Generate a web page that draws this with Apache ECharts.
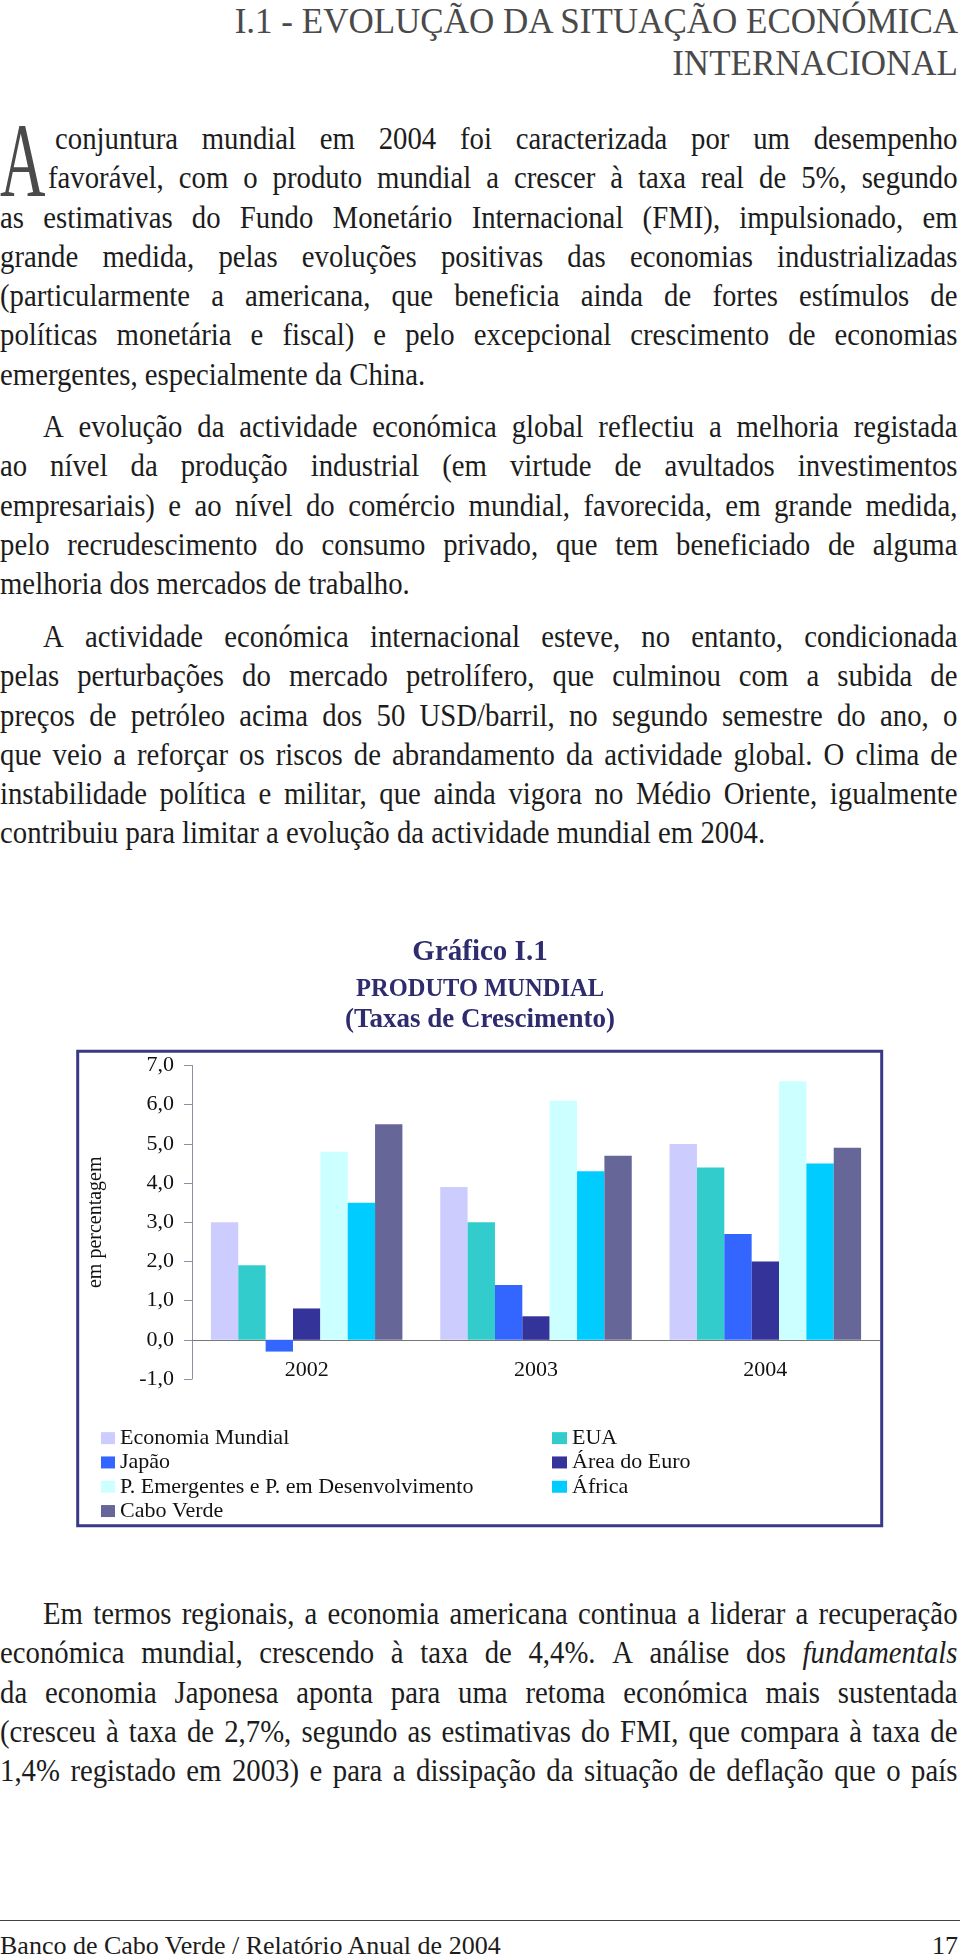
<!DOCTYPE html>
<html>
<head>
<meta charset="utf-8">
<script src="https://cdn.jsdelivr.net/npm/echarts@6.0.0/dist/echarts.min.js"></script>
<style>
  body {
    margin: 0;
    width: 960px;
    height: 1960px;
    position: relative;
    background: #fff;
    font-family: "Liberation Serif", serif;
    color: #1c1c1c;
    overflow: hidden;
  }
  .head {
    position: absolute;
    right: 2px;
    top: 1px;
    text-align: right;
    font-size: 35px;
    line-height: 42px;
    color: #4a4a4a;
  }
  .para {
    position: absolute;
    left: 0;
    width: 1082px;
    font-size: 32.5px;
    line-height: 39.3px;
    transform: scaleX(0.885);
    transform-origin: left top;
  }
  .line {
    display: flex;
    justify-content: space-between;
    white-space: nowrap;
    height: 39.3px;
  }
  .last {
    white-space: pre;
    height: 39.3px;
  }
  .dropcap {
    position: absolute;
    left: 0;
    top: 108px;
    font-size: 105px;
    line-height: 105px;
    color: #4a4a4a;
    transform: scaleX(0.6);
    transform-origin: left top;
  }
  #chart {
    position: absolute;
    left: 0;
    top: 900px;
    width: 960px;
    height: 660px;
  }
  .rule {
    position: absolute;
    left: 0;
    top: 1920px;
    width: 960px;
    border-top: 1.5px solid #444;
  }
  .foot {
    position: absolute;
    left: 0;
    top: 1931px;
    width: 958px;
    font-size: 26px;
    line-height: 30px;
    display: flex;
    justify-content: space-between;
  }
</style>
</head>
<body>
<div class="head">I.1 - EVOLUÇÃO DA SITUAÇÃO ECONÓMICA<br>INTERNACIONAL</div>
<div class="dropcap">A</div>
<div class="para" id="p1" style="top:119px"></div>
<div class="para" id="p2" style="top:407px"></div>
<div class="para" id="p3" style="top:617px"></div>
<div class="para" id="p4" style="top:1594px"></div>
<div id="chart"></div>
<div class="rule"></div>
<div class="foot"><span>Banco de Cabo Verde / Relatório Anual de 2004</span><span>17</span></div>
<script>
// texto (uma entrada por linha, como no original)
var par1 = [
  'conjuntura mundial em 2004 foi caracterizada por um desempenho',
  'favorável, com o produto mundial a crescer à taxa real de 5%, segundo',
  'as estimativas do Fundo Monetário Internacional (FMI), impulsionado, em',
  'grande medida, pelas evoluções positivas das economias industrializadas',
  '(particularmente a americana, que beneficia ainda de fortes estímulos de',
  'políticas monetária e fiscal) e pelo excepcional crescimento de economias',
  'emergentes, especialmente da China.'
]
var par2 = [
  'A evolução da actividade económica global reflectiu a melhoria registada',
  'ao nível da produção industrial (em virtude de avultados investimentos',
  'empresariais) e ao nível do comércio mundial, favorecida, em grande medida,',
  'pelo recrudescimento do consumo privado, que tem beneficiado de alguma',
  'melhoria dos mercados de trabalho.'
]
var par3 = [
  'A actividade económica internacional esteve, no entanto, condicionada',
  'pelas perturbações do mercado petrolífero, que culminou com a subida de',
  'preços de petróleo acima dos 50 USD/barril, no segundo semestre do ano, o',
  'que veio a reforçar os riscos de abrandamento da actividade global. O clima de',
  'instabilidade política e militar, que ainda vigora no Médio Oriente, igualmente',
  'contribuiu para limitar a evolução da actividade mundial em 2004.'
]
var par4 = [
  'Em termos regionais, a economia americana continua a liderar a recuperação',
  'económica mundial, crescendo à taxa de 4,4%. A análise dos *fundamentals*',
  'da economia Japonesa aponta para uma retoma económica mais sustentada',
  '(cresceu à taxa de 2,7%, segundo as estimativas do FMI, que compara à taxa de',
  '1,4% registado em 2003) e para a dissipação da situação de deflação que o país'
]

// dados do gráfico
var anos = ['2002', '2003', '2004']
var yTicks = [-1, 0, 1, 2, 3, 4, 5, 6, 7]
var nomes = ['Economia Mundial', 'EUA', 'Japão', 'Área do Euro',
  'P. Emergentes e P. em Desenvolvimento', 'África', 'Cabo Verde']
var cores = ['#ccccff', '#33cccc', '#3366ff', '#333399', '#ccffff', '#00ccff', '#666699']
var economiaMundial = [3.0, 3.9, 5.0]
var eua = [1.9, 3.0, 4.4]
var japao = [-0.3, 1.4, 2.7]
var areaEuro = [0.8, 0.6, 2.0]
var emergentes = [4.8, 6.1, 6.6]
var africa = [3.5, 4.3, 4.5]
var caboVerde = [5.5, 4.7, 4.9]
var valores = [economiaMundial, eua, japao, areaEuro, emergentes, africa, caboVerde]

var escala = 0.885
function escrever(id, linhas, opts) {
  var box = document.getElementById(id)
  linhas.forEach(function (txt, i) {
    var div = document.createElement('div')
    var ultima = opts.lastLeft && i === linhas.length - 1
    div.className = ultima ? 'last' : 'line'
    if (opts.pad && opts.pad[i]) div.style.paddingLeft = (opts.pad[i] / escala) + 'px'
    if (ultima) {
      div.textContent = txt
    } else {
      txt.split(' ').forEach(function (w) {
        var s = document.createElement('span')
        if (w.charAt(0) === '*') {
          s.style.fontStyle = 'italic'
          w = w.replace(/\*/g, '')
        }
        s.textContent = w
        div.appendChild(s)
      })
    }
    box.appendChild(div)
  })
}
escrever('p1', par1, { lastLeft: true, pad: [55, 48] })
escrever('p2', par2, { lastLeft: true, pad: [43] })
escrever('p3', par3, { lastLeft: true, pad: [43] })
escrever('p4', par4, { lastLeft: false, pad: [43] })

var fonte = 'Liberation Serif'
var chart = echarts.init(document.getElementById('chart'))
var esquerda = [nomes[0], nomes[2], nomes[4], nomes[6]]
var direita = [nomes[1], nomes[3], nomes[5]]

chart.setOption({
  animation: false,
  backgroundColor: '#fff',
  title: [
    { text: 'Gráfico I.1', left: 'center', top: 38, padding: 0,
      textStyle: { fontFamily: fonte, fontSize: 29, fontWeight: 'bold', color: '#2e2c6e' } },
    { text: 'PRODUTO MUNDIAL', left: 'center', top: 77, padding: 0,
      textStyle: { fontFamily: fonte, fontSize: 24.5, fontWeight: 'bold', color: '#2e2c6e' } },
    { text: '(Taxas de Crescimento)', left: 'center', top: 107, padding: 0,
      textStyle: { fontFamily: fonte, fontSize: 27, fontWeight: 'bold', color: '#2e2c6e' } }
  ],
  graphic: [{
    type: 'rect',
    silent: true,
    shape: { x: 77.7, y: 151.3, width: 804, height: 474.4 },
    style: { fill: 'none', stroke: '#3b3987', lineWidth: 3 }
  }],
  legend: [
    { data: esquerda, orient: 'vertical', left: 101, top: 526, padding: 0,
      icon: 'rect', itemWidth: 14, itemHeight: 12, itemGap: 0,
      textStyle: { fontFamily: fonte, fontSize: 22, lineHeight: 24.3, color: '#111' } },
    { data: direita, orient: 'vertical', left: 552, top: 526, padding: 0,
      icon: 'rect', itemWidth: 15, itemHeight: 12, itemGap: 0,
      textStyle: { fontFamily: fonte, fontSize: 22, lineHeight: 24.3, color: '#111' } }
  ],
  grid: { left: 192, right: 80, top: 165.5, bottom: 181, outerBoundsMode: 'none' },
  xAxis: {
    type: 'category',
    data: anos,
    axisLine: { onZero: true, lineStyle: { color: '#777', width: 1 } },
    axisTick: { length: 5, lineStyle: { color: '#777' } },
    axisLabel: { margin: -20, fontFamily: fonte, fontSize: 22, color: '#111' }
  },
  yAxis: {
    type: 'value',
    min: yTicks[0],
    max: yTicks[yTicks.length - 1],
    interval: 1,
    name: 'em percentagem',
    nameLocation: 'middle',
    nameRotate: 90,
    nameGap: 86,
    nameTextStyle: { fontFamily: fonte, fontSize: 20, color: '#111' },
    splitLine: { show: false },
    axisLine: { show: true, lineStyle: { color: '#8e8ea6', width: 1 } },
    axisTick: { show: true, length: 8, lineStyle: { color: '#8e8ea6' } },
    axisLabel: {
      margin: 18, fontFamily: fonte, fontSize: 22, color: '#111',
      formatter: function (v) { return v.toFixed(1).replace('.', ',') }
    }
  },
  series: nomes.map(function (n, i) {
    return {
      name: n,
      type: 'bar',
      data: valores[i],
      barGap: '0%',
      barCategoryGap: '16.5%',
      itemStyle: { color: cores[i] }
    }
  })
})
</script>
</body>
</html>
